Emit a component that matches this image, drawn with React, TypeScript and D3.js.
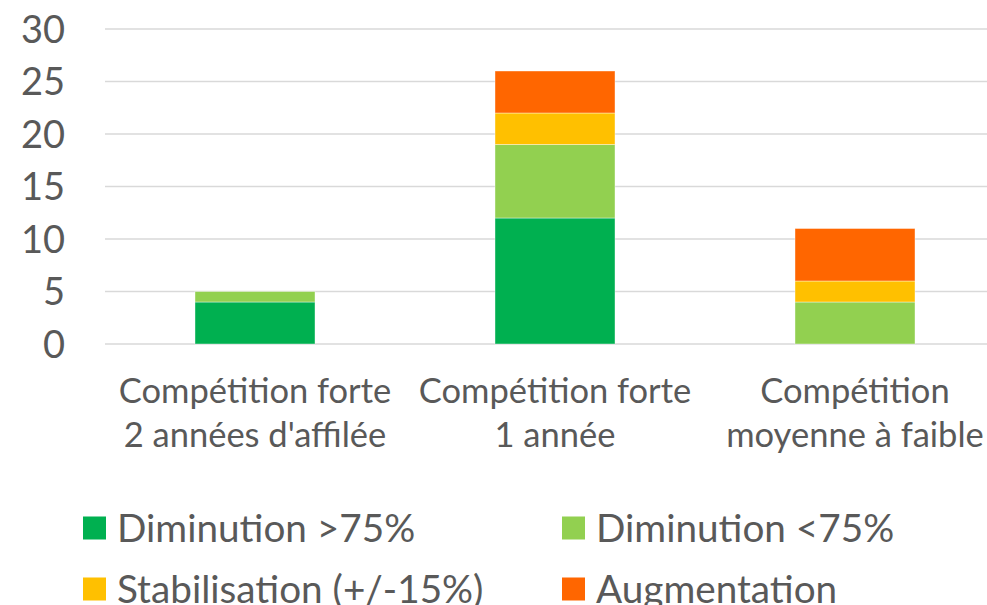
import * as d3 from 'd3';

const categories = [
  ['Compétition forte', "2 années d'affilée"],
  ['Compétition forte', '1 année'],
  ['Compétition', 'moyenne à faible'],
];
const seriesNames = ['Diminution >75%', 'Diminution <75%', 'Stabilisation (+/-15%)', 'Augmentation'];
const seriesColors = ['#00B050', '#92D050', '#FFC000', '#FF6600'];
const dimFort = [4, 12, 0];
const dimFaible = [1, 7, 4];
const stabilisation = [0, 3, 2];
const augmentation = [0, 4, 5];
const yTicks = [0, 5, 10, 15, 20, 25, 30];

const W = 987;
const H = 605;
const FONT = 'Lato, "Open Sans", sans-serif';
const TEXT = '#595959';

export default function App() {
  const series = [dimFort, dimFaible, stabilisation, augmentation];
  const rows = categories.map((_, i) => {
    const r: Record<string, number> = { idx: i };
    series.forEach((s, k) => (r['s' + k] = s[i]));
    return r;
  });
  const stacked = d3.stack<Record<string, number>>().keys(['s0', 's1', 's2', 's3'])(rows);

  const x = d3
    .scaleBand<number>()
    .domain(categories.map((_, i) => i))
    .range([105, 1005])
    .paddingInner(0.6)
    .paddingOuter(0.3);
  const y = d3.scaleLinear().domain([0, 30]).range([344, 29]);

  return (
    <svg
      width={W}
      height={H}
      style={{ position: 'absolute', left: 0, top: 0, background: '#fff', fontFamily: FONT }}
    >
      {yTicks.map((t) => (
        <g key={t}>
          <line x1={105} x2={W} y1={y(t)} y2={y(t)} stroke="#d9d9d9" strokeWidth={1.6} />
          <text x={65} y={y(t)} dy="0.36em" textAnchor="end" fontSize={38} fill={TEXT}>
            {t}
          </text>
        </g>
      ))}
      {stacked.map((layer, k) => (
        <g key={k} fill={seriesColors[k]}>
          {layer.map((d, i) =>
            d[1] - d[0] > 0 ? (
              <rect
                key={i}
                x={x(i)}
                y={y(d[1])}
                width={x.bandwidth()}
                height={y(d[0]) - y(d[1])}
                stroke="#ffffff"
                strokeOpacity={0.5}
                strokeWidth={0.8}
              />
            ) : null
          )}
        </g>
      ))}
      {categories.map((lines, i) => (
        <text
          key={i}
          x={(x(i) as number) + x.bandwidth() / 2}
          textAnchor="middle"
          fontSize={34.5}
          fill={TEXT}
        >
          {lines.map((l, j) => (
            <tspan key={j} x={(x(i) as number) + x.bandwidth() / 2} y={403 + j * 44}>
              {l}
            </tspan>
          ))}
        </text>
      ))}
      {seriesNames.map((name, k) => {
        const lx = k % 2 === 0 ? 83 : 562;
        const ly = k < 2 ? 528 : 589;
        return (
          <g key={name}>
            <rect x={lx} y={ly - 11.5} width={23} height={23} fill={seriesColors[k]} />
            <text x={lx + 34} y={ly} dy="0.36em" fontSize={38.7} fill={TEXT}>
              {name}
            </text>
          </g>
        );
      })}
    </svg>
  );
}
